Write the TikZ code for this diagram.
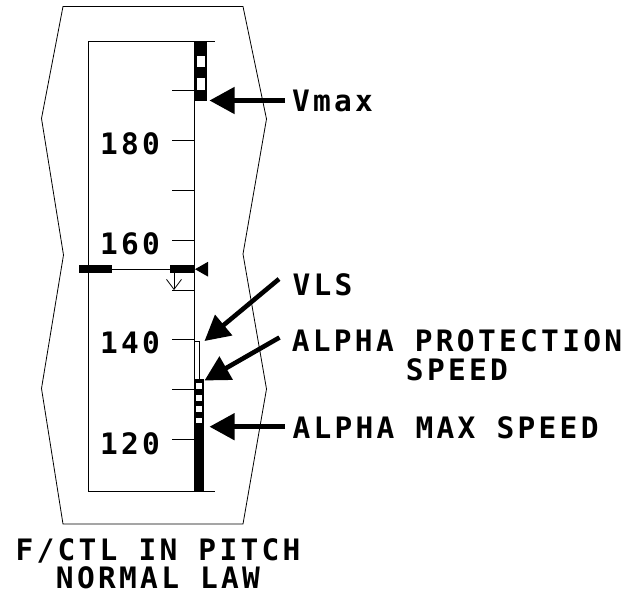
\documentclass[tikz,border=0pt]{standalone}
\usepackage{fontspec}
\usetikzlibrary{arrows.meta}
\newfontfamily\ecam{DejaVu Sans Mono}[LetterSpace=11.2, BoldFont={DejaVu Sans Mono Bold}]
\tikzset{
  thin line/.style={line width=0.8pt},
  lbl/.style={inner sep=0pt, outer sep=0pt, font=\ecam\bfseries\fontsize{29.5}{29}\selectfont},
  bigarrow/.style={line width=4.6pt, -{Triangle[length=25pt,width=26pt]}},
  blackbar/.style={fill=black, draw=none},
  whitecell/.style={fill=white, draw=none},
}
\begin{document}
\begin{tikzpicture}[x=1pt,y=-1pt]
\useasboundingbox (0,0) rectangle (631,597);
% outer frame
\draw[thin line] (63,6.5) -- (243,6.5) -- (266.5,119) -- (243,254) -- (266.5,389) -- (243,524)
  -- (63,524) -- (41.5,388.5) -- (63.5,255) -- (41.5,118.5) -- cycle;
% inner scale box
\draw[thin line] (88,41.5) -- (88,491.5) -- (194,491.5);
\draw[thin line] (88,41.5) -- (215,41.5);
\draw[thin line] (168,491.5) -- (215,491.5);
\draw[thin line] (194,41.5) -- (194,491.5);
% ticks
\foreach \y in {90.8,140.6,190.4,240.2,290,339.8,389.6,439.4}
  \draw[thin line] (172,\y) -- (194,\y);
% speed numbers
\node[lbl, anchor=base] (n180) at (130,154) {180};
\node[lbl, anchor=base] (n160) at (130,254) {160};
\node[lbl, anchor=base] (n140) at (130,353.3) {140};
\node[lbl, anchor=base] (n120) at (130,454) {120};
% Vmax barber pole
\fill[blackbar] (194.5,41.5) rectangle (206.5,100.7);
\fill[whitecell] (196.8,56) rectangle (204.8,66.7);
\fill[whitecell] (196.8,78.3) rectangle (204.8,90);
% current speed reference
\fill[blackbar] (79.3,265.3) rectangle (111.7,273);
\draw[thin line] (111.7,269.2) -- (170,269.2);
\fill[blackbar] (170,265.3) rectangle (194.5,273);
\fill[black] (195,269.2) -- (208,261.8) -- (208,276.6) -- cycle;
% speed trend arrow
\coordinate (trendtop) at (174,273);
\coordinate (trendtip) at (174,290);
\draw[thin line, -{Straight Barb[length=10pt,width=15pt,line width=0.8pt]}] (trendtop) -- (trendtip);
% VLS strip
\draw[thin line] (194,341.5) -- (199,341.5) -- (199,380);
% alpha protection barber pole
\fill[blackbar] (194.3,379) rectangle (203.5,425);
\foreach \a/\b in {383/389.3,394.7/401,406.3/412.3,417.5/423}
  \fill[whitecell] (195.9,\a) rectangle (201.6,\b);
% alpha max bar
\fill[blackbar] (194.3,425) rectangle (204,491.5);
% labels
\node[lbl, anchor=base west] (vmax) at (292,111.7) {Vmax};
\node[lbl, anchor=base west] (vls) at (292.5,295.7) {VLS};
\node[lbl, anchor=base, align=center] (aprot) at (457,380.7) {ALPHA PROTECTION\\SPEED};
\node[lbl, anchor=base west] (amax) at (292.5,438.3) {ALPHA MAX SPEED};
\node[lbl, anchor=base, align=center] (title) at (158,588) {F/CTL IN PITCH\\[-1pt]NORMAL LAW};
% arrow coordinates
\coordinate (vmaxs) at (285,100.5);
\coordinate (vmaxt) at (209.5,100.5);
\coordinate (vlss) at (279,279);
\coordinate (vlst) at (204.5,341);
\coordinate (aprots) at (279.5,337.5);
\coordinate (aprott) at (204.5,380.5);
\coordinate (amaxs) at (285,426.7);
\coordinate (amaxt) at (209.5,426.7);
\draw[bigarrow] (vmaxs) -- (vmaxt);
\draw[bigarrow] (vlss) -- (vlst);
\draw[bigarrow] (aprots) -- (aprott);
\draw[bigarrow] (amaxs) -- (amaxt);
\end{tikzpicture}
\end{document}
